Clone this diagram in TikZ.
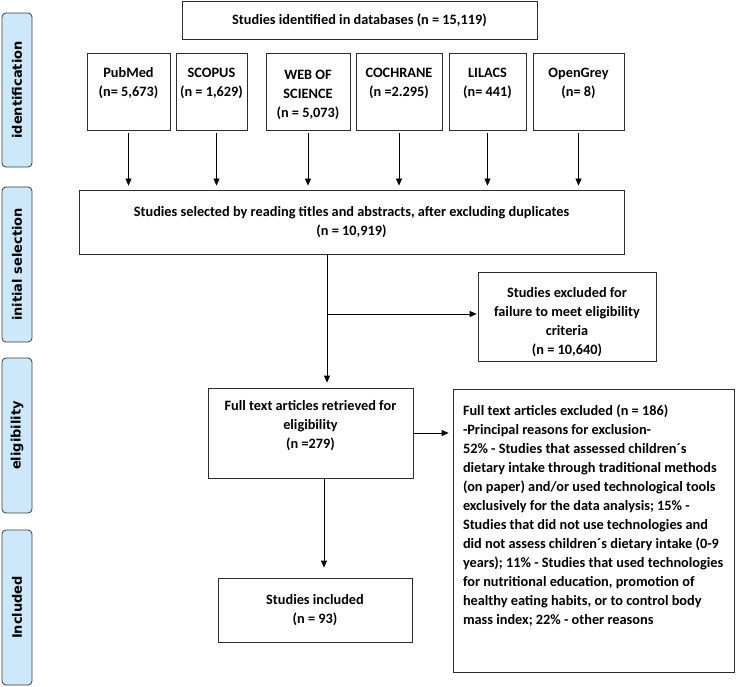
\documentclass[tikz,border=0pt]{standalone}
\usepackage{fontspec}
\setmainfont{Carlito}
\newfontfamily\labfont{DejaVu Sans}
\usetikzlibrary{arrows.meta}
\definecolor{labfill}{RGB}{204,232,250}
\definecolor{labdraw}{RGB}{60,60,60}
\definecolor{boxdraw}{RGB}{45,45,45}
\tikzset{
  box/.style={draw=boxdraw, line width=0.8pt, inner sep=0pt, align=center,
    font=\bfseries\fontsize{14.3}{19}\selectfont},
  lab/.style={draw=labdraw, fill=labfill, line width=0.8pt, rounded corners=4pt,
    minimum height=30pt, minimum width=155pt, inner sep=0pt, rotate=90,
    font=\labfont\bfseries\fontsize{13}{15}\selectfont},
  arr/.style={line width=0.8pt, draw=black, -{Triangle[length=7pt,width=6pt]}}
}
\begin{document}
\begin{tikzpicture}[x=1pt,y=-1pt]
\useasboundingbox (0,0) rectangle (736,687);
% stage labels
\node[lab, minimum width=154pt] (l1) at (17,90) {identification};
\node[lab] (l2) at (17,264.5) {initial selection};
\node[lab] (l3) at (17,435.5) {eligibility};
\node[lab] (l4) at (17,607.5) {Included};
% top box
\node[box, minimum width=355pt, minimum height=38pt] (top) at (359.5,20)
  {Studies identified in databases (n = 15,119)};
% database boxes
\node[box, minimum width=83pt, minimum height=77pt] (pub) at (128.5,91.5)
  {\strut\\[-16pt]PubMed\\(n= 5,673)\\\strut};
\node[box, minimum width=71pt, minimum height=77pt] (sco) at (211.5,91.5)
  {\strut\\[-16pt]SCOPUS\\(n = 1,629)\\\strut};
\node[box, minimum width=84pt, minimum height=77pt] (wos) at (308,91.5)
  {\strut\\[-16pt]WEB OF\\SCIENCE\\(n = 5,073)};
\node[box, minimum width=86pt, minimum height=77pt] (coc) at (399,91.5)
  {\strut\\[-16pt]COCHRANE\\(n =2.295)\\\strut};
\node[box, minimum width=77pt, minimum height=77pt] (lil) at (487.5,91.5)
  {\strut\\[-16pt]LILACS\\(n= 441)\\\strut};
\node[box, minimum width=91pt, minimum height=77pt] (ogr) at (578.5,91.5)
  {\strut\\[-16pt]OpenGrey\\(n= 8)\\\strut};
% selection
\node[box, minimum width=545pt, minimum height=64pt] (sel) at (351.5,222)
  {Studies selected by reading titles and abstracts, after excluding duplicates\\(n = 10,919)};
\node[box, minimum width=178pt, minimum height=89pt] (ex1) at (567,316.5)
  {\strut\\[-11pt]Studies excluded for\\failure to meet eligibility\\criteria\\(n = 10,640)};
\node[box, minimum width=205pt, minimum height=90pt] (elig) at (310.5,433)
  {Full text articles retrieved for\\eligibility\\(n =279)\\[-8pt]\strut};
\node[box, minimum width=281pt, minimum height=283pt, align=left, inner xsep=10pt] (ex2) at (593.5,530.5)
  {\makebox[261pt][l]{Full text articles excluded (n = 186)}\\
   -Principal reasons for exclusion-\\
   52\% - Studies that assessed children´s\\
   dietary intake through traditional methods\\
   (on paper) and/or used technological tools\\
   exclusively for the data analysis; 15\% -\\
   Studies that did not use technologies and\\
   did not assess children´s dietary intake (0-9\\
   years); 11\% - Studies that used technologies\\
   for nutritional education, promotion of\\
   healthy eating habits, or to control body\\
   mass index; 22\% - other reasons\\
   \strut\\[-12pt]\strut};
\node[box, minimum width=194pt, minimum height=64pt] (inc) at (315,610)
  {Studies included\\(n = 93)};
% arrows from databases
\foreach \n in {pub,wos,coc,lil,ogr}
  \draw[arr, shorten <=3pt, shorten >=4pt] (\n.south) -- (\n.south |- sel.north);
\draw[arr, shorten <=3pt, shorten >=4pt] ([xshift=5pt]sco.south) -- ([xshift=5pt]sco.south |- sel.north);
% branch
\coordinate (j) at (327,314);
\draw[line width=0.8pt] (j |- sel.south) -- (j);
\draw[arr, shorten >=5pt] (j) -- (j |- elig.north);
\draw[arr, shorten >=1pt] (j) -- (j -| ex1.west);
\draw[arr, shorten >=4pt] (elig.east) -- (elig.east -| ex2.west);
\coordinate (k) at (324,478);
\draw[arr, shorten >=10pt] (k) -- (k |- inc.north);
\end{tikzpicture}
\end{document}
